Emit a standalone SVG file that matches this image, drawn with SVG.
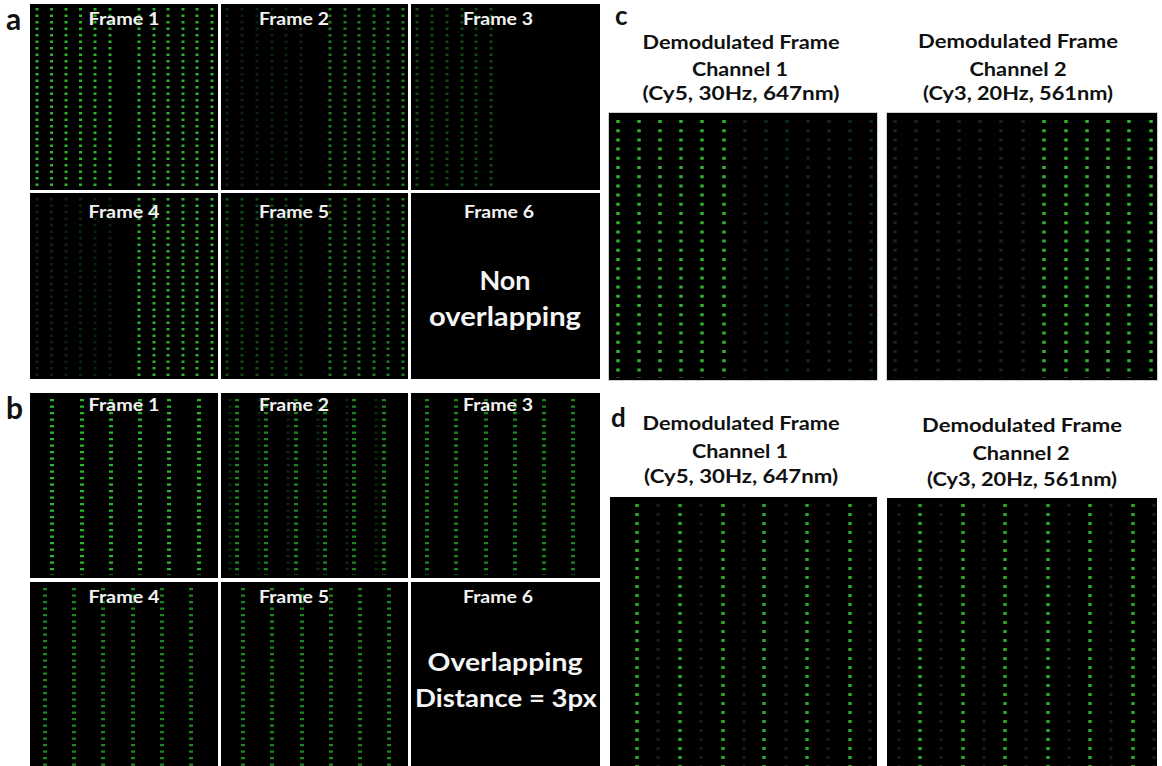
<svg xmlns="http://www.w3.org/2000/svg" width="1162" height="766" viewBox="0 0 1162 766">
<style>
.bg{fill:#000}
.lbl{font-family:Lato,"Open Sans",sans-serif;font-weight:bold;fill:#111}
.ft{font-family:Lato,"Open Sans",sans-serif;font-weight:bold;fill:#f2f2f2;font-size:16.5px;text-anchor:middle}
.big{font-family:Lato,"Open Sans",sans-serif;font-weight:bold;fill:#f5f5f5;text-anchor:middle}
.hd{font-family:Lato,"Open Sans",sans-serif;font-weight:bold;fill:#111;font-size:19px;text-anchor:middle}
line{stroke-linecap:butt}
.aB{stroke:#2fb02f;stroke-width:3;stroke-dasharray:2.5 4}
.aM{stroke:#1f7d1f;stroke-width:3;stroke-dasharray:2.5 4}
.aD{stroke:#134a13;stroke-width:3;stroke-dasharray:2.5 4}
.aF{stroke:#0b240b;stroke-width:3;stroke-dasharray:2.5 4}
.bB{stroke:#2db52d;stroke-width:4;stroke-dasharray:2.2 4.3}
.bM{stroke:#1f861f;stroke-width:4;stroke-dasharray:2.2 4.3}
.bF{stroke:#0c2a0c;stroke-width:3;stroke-dasharray:2.2 4.3}
.cB{stroke:#2fb22f;stroke-width:3.5;stroke-dasharray:3 6.2}
.cD{stroke:#0e2b0e;stroke-width:3.5;stroke-dasharray:3 6.2}
.dB{stroke:#2aa82a;stroke-width:3.5;stroke-dasharray:3 6}
.dF{stroke:#0c260c;stroke-width:3;stroke-dasharray:3 6}
.brd{fill:none;stroke:#cfcfcf;stroke-width:1}
</style>
<rect width="1162" height="766" fill="#fff"/>

<!-- Panel a -->
<g id="panel-a">
<text class="lbl" x="6" y="30" font-size="30">a</text>
<g id="a-frame1">
<rect class="bg" x="30" y="4" width="188" height="186"/>
<g transform="translate(0,8)">
<line class="aB" x1="37" y1="0" x2="37" y2="180"/><line class="aB" x1="51.5" y1="0" x2="51.5" y2="180"/><line class="aB" x1="66" y1="0" x2="66" y2="180"/><line class="aB" x1="80.5" y1="0" x2="80.5" y2="180"/><line class="aB" x1="95" y1="0" x2="95" y2="180"/><line class="aB" x1="110" y1="0" x2="110" y2="180"/>
<line class="aB" x1="139" y1="0" x2="139" y2="180"/><line class="aB" x1="154" y1="0" x2="154" y2="180"/><line class="aB" x1="168" y1="0" x2="168" y2="180"/><line class="aB" x1="183" y1="0" x2="183" y2="180"/><line class="aB" x1="197" y1="0" x2="197" y2="180"/><line class="aB" x1="212" y1="0" x2="212" y2="180"/>
</g>
<text class="ft" x="124" y="25" textLength="71" lengthAdjust="spacingAndGlyphs">Frame 1</text>
</g>
<g id="a-frame2">
<rect class="bg" x="221" y="4" width="187" height="186"/>
<g transform="translate(0,8)">
<line class="aF" x1="227" y1="0" x2="227" y2="180"/><line class="aF" x1="242" y1="0" x2="242" y2="180"/><line class="aF" x1="257" y1="0" x2="257" y2="180"/><line class="aF" x1="272" y1="0" x2="272" y2="180"/><line class="aF" x1="286" y1="0" x2="286" y2="180"/><line class="aF" x1="301" y1="0" x2="301" y2="180"/>
<line class="aM" x1="330" y1="0" x2="330" y2="180"/><line class="aM" x1="345" y1="0" x2="345" y2="180"/><line class="aM" x1="359" y1="0" x2="359" y2="180"/><line class="aM" x1="374" y1="0" x2="374" y2="180"/><line class="aM" x1="388" y1="0" x2="388" y2="180"/><line class="aM" x1="403" y1="0" x2="403" y2="180"/>
</g>
<text class="ft" x="294" y="25" textLength="70" lengthAdjust="spacingAndGlyphs">Frame 2</text>
</g>
<g id="a-frame3">
<rect class="bg" x="411" y="4" width="189" height="186"/>
<g transform="translate(0,8)">
<line class="aD" x1="417" y1="0" x2="417" y2="180"/><line class="aD" x1="432" y1="0" x2="432" y2="180"/><line class="aD" x1="447" y1="0" x2="447" y2="180"/><line class="aD" x1="462" y1="0" x2="462" y2="180"/><line class="aD" x1="476" y1="0" x2="476" y2="180"/><line class="aD" x1="491" y1="0" x2="491" y2="180"/>
</g>
<text class="ft" x="498" y="25" textLength="70" lengthAdjust="spacingAndGlyphs">Frame 3</text>
</g>
<g id="a-frame4">
<rect class="bg" x="30" y="193" width="188" height="186"/>
<g transform="translate(0,198)">
<line class="aF" x1="37" y1="0" x2="37" y2="178"/><line class="aF" x1="51.5" y1="0" x2="51.5" y2="178"/><line class="aF" x1="66" y1="0" x2="66" y2="178"/><line class="aF" x1="80.5" y1="0" x2="80.5" y2="178"/><line class="aF" x1="95" y1="0" x2="95" y2="178"/><line class="aF" x1="110" y1="0" x2="110" y2="178"/>
<line class="aB" x1="139" y1="0" x2="139" y2="178"/><line class="aB" x1="154" y1="0" x2="154" y2="178"/><line class="aB" x1="168" y1="0" x2="168" y2="178"/><line class="aB" x1="183" y1="0" x2="183" y2="178"/><line class="aB" x1="197" y1="0" x2="197" y2="178"/><line class="aB" x1="212" y1="0" x2="212" y2="178"/>
</g>
<text class="ft" x="124" y="218" textLength="71" lengthAdjust="spacingAndGlyphs">Frame 4</text>
</g>
<g id="a-frame5">
<rect class="bg" x="221" y="193" width="187" height="186"/>
<g transform="translate(0,198)">
<line class="aD" x1="227" y1="0" x2="227" y2="178"/><line class="aD" x1="242" y1="0" x2="242" y2="178"/><line class="aD" x1="257" y1="0" x2="257" y2="178"/><line class="aD" x1="272" y1="0" x2="272" y2="178"/><line class="aD" x1="286" y1="0" x2="286" y2="178"/><line class="aD" x1="301" y1="0" x2="301" y2="178"/>
<line class="aM" x1="330" y1="0" x2="330" y2="178"/><line class="aM" x1="345" y1="0" x2="345" y2="178"/><line class="aM" x1="359" y1="0" x2="359" y2="178"/><line class="aM" x1="374" y1="0" x2="374" y2="178"/><line class="aM" x1="388" y1="0" x2="388" y2="178"/><line class="aM" x1="403" y1="0" x2="403" y2="178"/>
</g>
<text class="ft" x="294" y="218" textLength="70" lengthAdjust="spacingAndGlyphs">Frame 5</text>
</g>
<g id="a-frame6">
<rect class="bg" x="411" y="193" width="189" height="186"/>
<text class="ft" x="499" y="218" textLength="70" lengthAdjust="spacingAndGlyphs">Frame 6</text>
<text class="big" x="505" y="290" font-size="27">Non</text>
<text class="big" x="505" y="326" font-size="27" textLength="152" lengthAdjust="spacingAndGlyphs">overlapping</text>
</g>
</g>

<!-- Panel b -->
<g id="panel-b">
<text class="lbl" x="6" y="419" font-size="30">b</text>
<g id="b-frame1">
<rect class="bg" x="30" y="393" width="188" height="185"/>
<g transform="translate(0,399)">
<line class="bB" x1="52" y1="0" x2="52" y2="176"/><line class="bB" x1="82" y1="0" x2="82" y2="176"/><line class="bB" x1="111" y1="0" x2="111" y2="176"/><line class="bB" x1="140" y1="0" x2="140" y2="176"/><line class="bB" x1="169" y1="0" x2="169" y2="176"/><line class="bB" x1="199" y1="0" x2="199" y2="176"/>
</g>
<text class="ft" x="124" y="411" textLength="71" lengthAdjust="spacingAndGlyphs">Frame 1</text>
</g>
<g id="b-frame2">
<rect class="bg" x="221" y="393" width="187" height="185"/>
<g transform="translate(0,399)">
<line class="bF" x1="230" y1="0" x2="230" y2="176"/><line class="bF" x1="259" y1="0" x2="259" y2="176"/><line class="bF" x1="288" y1="0" x2="288" y2="176"/><line class="bF" x1="318" y1="0" x2="318" y2="176"/><line class="bF" x1="347" y1="0" x2="347" y2="176"/><line class="bF" x1="376" y1="0" x2="376" y2="176"/>
<line class="bM" x1="237" y1="0" x2="237" y2="176"/><line class="bM" x1="266" y1="0" x2="266" y2="176"/><line class="bM" x1="296" y1="0" x2="296" y2="176"/><line class="bM" x1="325" y1="0" x2="325" y2="176"/><line class="bM" x1="354" y1="0" x2="354" y2="176"/><line class="bM" x1="384" y1="0" x2="384" y2="176"/>
</g>
<text class="ft" x="294" y="411" textLength="70" lengthAdjust="spacingAndGlyphs">Frame 2</text>
</g>
<g id="b-frame3">
<rect class="bg" x="411" y="393" width="189" height="185"/>
<g transform="translate(0,399)">
<line class="bM" x1="427" y1="0" x2="427" y2="176"/><line class="bM" x1="456" y1="0" x2="456" y2="176"/><line class="bM" x1="486" y1="0" x2="486" y2="176"/><line class="bM" x1="515" y1="0" x2="515" y2="176"/><line class="bM" x1="544" y1="0" x2="544" y2="176"/><line class="bM" x1="573" y1="0" x2="573" y2="176"/>
</g>
<text class="ft" x="498" y="411" textLength="70" lengthAdjust="spacingAndGlyphs">Frame 3</text>
</g>
<g id="b-frame4">
<rect class="bg" x="30" y="582" width="188" height="184"/>
<g transform="translate(0,588)">
<line class="bM" x1="45" y1="0" x2="45" y2="178"/><line class="bM" x1="74" y1="0" x2="74" y2="178"/><line class="bM" x1="103" y1="0" x2="103" y2="178"/><line class="bM" x1="133" y1="0" x2="133" y2="178"/><line class="bM" x1="162" y1="0" x2="162" y2="178"/><line class="bM" x1="191" y1="0" x2="191" y2="178"/>
</g>
<text class="ft" x="124" y="603" textLength="71" lengthAdjust="spacingAndGlyphs">Frame 4</text>
</g>
<g id="b-frame5">
<rect class="bg" x="221" y="582" width="187" height="184"/>
<g transform="translate(0,588)">
<line class="bM" x1="243" y1="0" x2="243" y2="178"/><line class="bM" x1="272" y1="0" x2="272" y2="178"/><line class="bM" x1="302" y1="0" x2="302" y2="178"/><line class="bM" x1="331" y1="0" x2="331" y2="178"/><line class="bM" x1="360" y1="0" x2="360" y2="178"/><line class="bM" x1="389" y1="0" x2="389" y2="178"/>
</g>
<text class="ft" x="294" y="603" textLength="70" lengthAdjust="spacingAndGlyphs">Frame 5</text>
</g>
<g id="b-frame6">
<rect class="bg" x="411" y="582" width="189" height="184"/>
<text class="ft" x="498" y="603" textLength="70" lengthAdjust="spacingAndGlyphs">Frame 6</text>
<text class="big" x="505" y="671" font-size="24" textLength="155" lengthAdjust="spacingAndGlyphs">Overlapping</text>
<text class="big" x="506" y="707" font-size="24" textLength="182" lengthAdjust="spacingAndGlyphs">Distance = 3px</text>
</g>
</g>

<!-- Panel c -->
<g id="panel-c">
<text class="lbl" x="615" y="25" font-size="26">c</text>
<g id="c-ch1">
<text class="hd" x="741" y="49" textLength="197" lengthAdjust="spacingAndGlyphs">Demodulated Frame</text>
<text class="hd" x="740" y="76" textLength="96" lengthAdjust="spacingAndGlyphs">Channel 1</text>
<text class="hd" x="741" y="100" textLength="197" lengthAdjust="spacingAndGlyphs">(Cy5, 30Hz, 647nm)</text>
<rect class="bg" x="609" y="113" width="268" height="267"/>
<rect class="brd" x="608.5" y="112.5" width="269" height="268"/>
<g transform="translate(0,120)">
<line class="cB" x1="618" y1="0" x2="618" y2="258"/><line class="cB" x1="639" y1="0" x2="639" y2="258"/><line class="cB" x1="660" y1="0" x2="660" y2="258"/><line class="cB" x1="681" y1="0" x2="681" y2="258"/><line class="cB" x1="702" y1="0" x2="702" y2="258"/><line class="cB" x1="724" y1="0" x2="724" y2="258"/>
<line class="cD" x1="745" y1="0" x2="745" y2="258"/><line class="cD" x1="766" y1="0" x2="766" y2="258"/><line class="cD" x1="787" y1="0" x2="787" y2="258"/><line class="cD" x1="808" y1="0" x2="808" y2="258"/><line class="cD" x1="829" y1="0" x2="829" y2="258"/><line class="cD" x1="850" y1="0" x2="850" y2="258"/><line class="cD" x1="871" y1="0" x2="871" y2="258"/>
</g>
</g>
<g id="c-ch2">
<text class="hd" x="1018" y="48" textLength="200" lengthAdjust="spacingAndGlyphs">Demodulated Frame</text>
<text class="hd" x="1018" y="76" textLength="97" lengthAdjust="spacingAndGlyphs">Channel 2</text>
<text class="hd" x="1018" y="100" textLength="190" lengthAdjust="spacingAndGlyphs">(Cy3, 20Hz, 561nm)</text>
<rect class="bg" x="887" y="113" width="270" height="267"/>
<rect class="brd" x="886.5" y="112.5" width="271" height="268"/>
<g transform="translate(0,120)">
<line class="cD" x1="895" y1="0" x2="895" y2="258"/><line class="cD" x1="916" y1="0" x2="916" y2="258"/><line class="cD" x1="938" y1="0" x2="938" y2="258"/><line class="cD" x1="959" y1="0" x2="959" y2="258"/><line class="cD" x1="980" y1="0" x2="980" y2="258"/><line class="cD" x1="1001" y1="0" x2="1001" y2="258"/><line class="cD" x1="1023" y1="0" x2="1023" y2="258"/>
<line class="cB" x1="1044" y1="0" x2="1044" y2="258"/><line class="cB" x1="1066" y1="0" x2="1066" y2="258"/><line class="cB" x1="1087" y1="0" x2="1087" y2="258"/><line class="cB" x1="1108" y1="0" x2="1108" y2="258"/><line class="cB" x1="1129" y1="0" x2="1129" y2="258"/><line class="cB" x1="1151" y1="0" x2="1151" y2="258"/>
</g>
</g>
</g>

<!-- Panel d -->
<g id="panel-d">
<text class="lbl" x="611" y="427" font-size="26">d</text>
<g id="d-ch1">
<text class="hd" x="741" y="430" textLength="197" lengthAdjust="spacingAndGlyphs">Demodulated Frame</text>
<text class="hd" x="740" y="458" textLength="96" lengthAdjust="spacingAndGlyphs">Channel 1</text>
<text class="hd" x="741" y="483" textLength="194" lengthAdjust="spacingAndGlyphs">(Cy5, 30Hz, 647nm)</text>
<rect class="bg" x="610" y="497" width="267" height="269"/>
<g transform="translate(0,504)">
<line class="dF" x1="658" y1="0" x2="658" y2="262"/><line class="dF" x1="701" y1="0" x2="701" y2="262"/><line class="dF" x1="744" y1="0" x2="744" y2="262"/><line class="dF" x1="786" y1="0" x2="786" y2="262"/><line class="dF" x1="828" y1="0" x2="828" y2="262"/><line class="dF" x1="870" y1="0" x2="870" y2="262"/>
<line class="dB" x1="637" y1="0" x2="637" y2="262"/><line class="dB" x1="680" y1="0" x2="680" y2="262"/><line class="dB" x1="723" y1="0" x2="723" y2="262"/><line class="dB" x1="764" y1="0" x2="764" y2="262"/><line class="dB" x1="807" y1="0" x2="807" y2="262"/><line class="dB" x1="850" y1="0" x2="850" y2="262"/>
</g>
</g>
<g id="d-ch2">
<text class="hd" x="1022" y="432" textLength="200" lengthAdjust="spacingAndGlyphs">Demodulated Frame</text>
<text class="hd" x="1021" y="460" textLength="97" lengthAdjust="spacingAndGlyphs">Channel 2</text>
<text class="hd" x="1022" y="486" textLength="190" lengthAdjust="spacingAndGlyphs">(Cy3, 20Hz, 561nm)</text>
<rect class="bg" x="887" y="498" width="270" height="268"/>
<g transform="translate(0,504)">
<line class="dF" x1="899" y1="0" x2="899" y2="262"/><line class="dF" x1="941" y1="0" x2="941" y2="262"/><line class="dF" x1="984" y1="0" x2="984" y2="262"/><line class="dF" x1="1026" y1="0" x2="1026" y2="262"/><line class="dF" x1="1069" y1="0" x2="1069" y2="262"/><line class="dF" x1="1111" y1="0" x2="1111" y2="262"/><line class="dF" x1="1154" y1="0" x2="1154" y2="262"/>
<line class="dB" x1="920" y1="0" x2="920" y2="262"/><line class="dB" x1="963" y1="0" x2="963" y2="262"/><line class="dB" x1="1005" y1="0" x2="1005" y2="262"/><line class="dB" x1="1048" y1="0" x2="1048" y2="262"/><line class="dB" x1="1090" y1="0" x2="1090" y2="262"/><line class="dB" x1="1133" y1="0" x2="1133" y2="262"/>
</g>
</g>
</g>
</svg>
